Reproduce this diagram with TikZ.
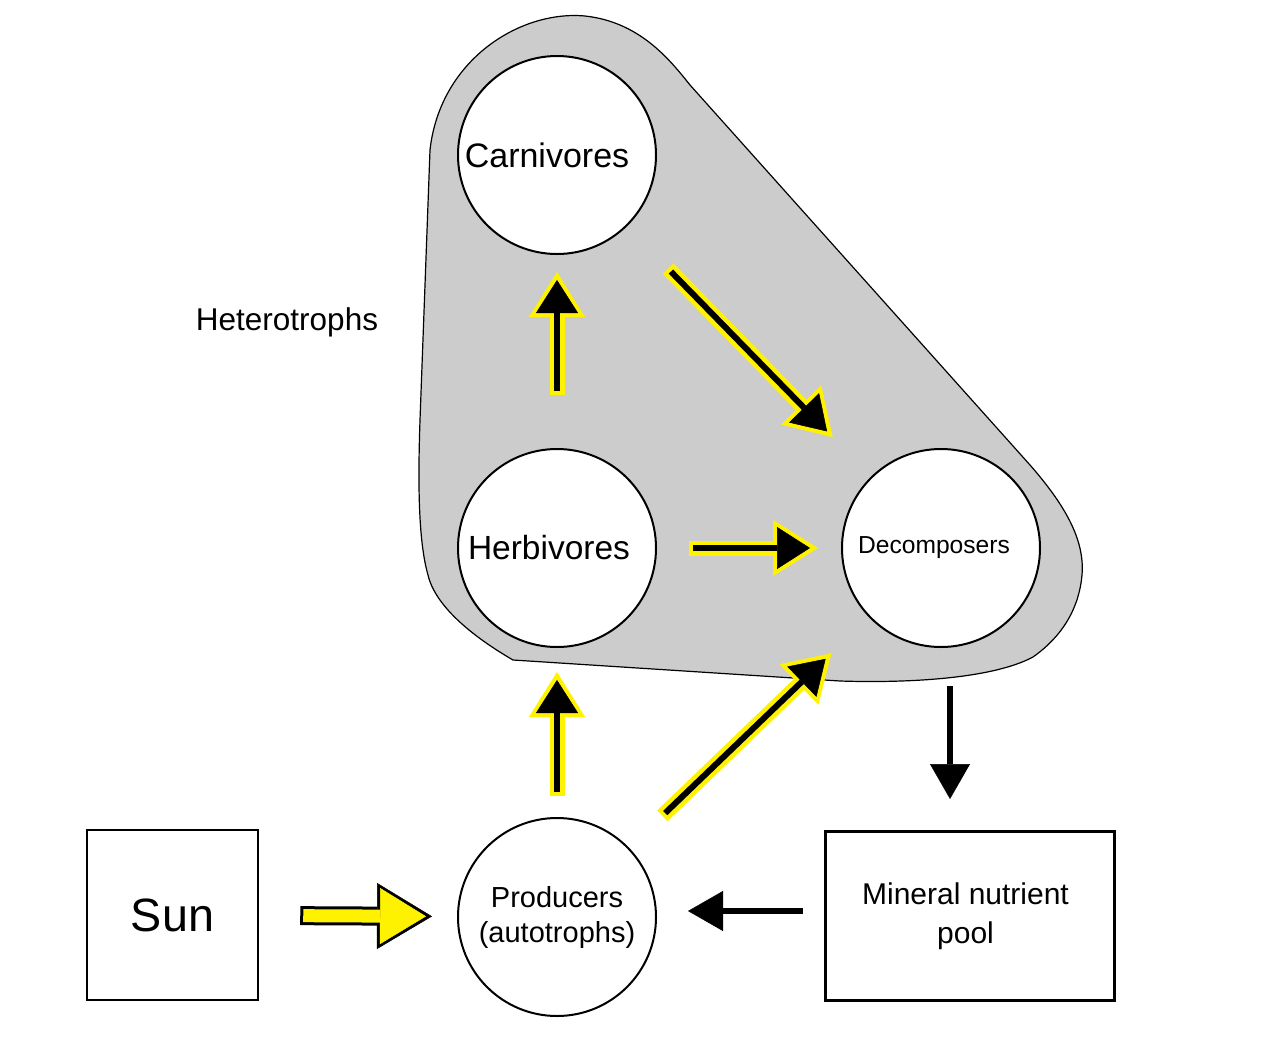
\documentclass[tikz,border=0pt]{standalone}
\usepackage{fontspec}
\setmainfont{Liberation Sans}
\usetikzlibrary{arrows.meta,positioning,calc}

\begin{document}
\begin{tikzpicture}[x=1pt, y=-1pt,
    bubble/.style={circle, draw, line width=2pt, fill=white, minimum size=198pt, inner sep=0pt, align=center},
    pool/.style={rectangle, draw, line width=3pt, fill=white, align=center},
    % black arrow with yellow rim (energy + matter)
    feed/.style 2 args={line width=6pt, -{Triangle[length=33pt, width=42pt, line width=0.5pt]},
      shorten <=#1, shorten >=#2,
      preaction={draw=yellow, line width=15pt, -{Triangle[length=45pt, width=56pt, line width=0.5pt]},
        shorten <=#1-4, shorten >=#2-8}},
    % yellow arrow with black rim (sunlight)
    light/.style 2 args={draw=yellow, line width=13pt, -{Triangle[length=46pt, width=56pt, line width=0.5pt]},
      shorten <=#1+3, shorten >=#2+6,
      preaction={draw=black, line width=19pt, -{Triangle[length=55pt, width=66pt, line width=0.5pt]},
        shorten <=#1, shorten >=#2}},
    % plain black arrow (nutrients)
    cycle/.style={line width=6pt, -{Triangle[length=35pt, width=40pt, line width=0.5pt]}}]
  \useasboundingbox (0,0) rectangle (1280,1053);
  % Heterotroph area
  \filldraw[fill=black!20, line width=1.2pt]
    (430,150) .. controls (440,60) and (520,10) .. (585,16)
    .. controls (640,22) and (670,60) .. (690,85) -- (1030,465)
    .. controls (1065,505) and (1085,540) .. (1082,575)
    .. controls (1078,620) and (1050,645) .. (1033,657)
    .. controls (990,680) and (900,683) .. (840,681) -- (513,660)
    .. controls (470,635) and (435,605) .. (428,575)
    .. controls (418,540) and (418,480) .. (420,420) -- cycle;
  \node[font=\fontsize{31.5}{36}\selectfont] (hetero) at (287,322) {Heterotrophs};
  % Trophic levels
  \node[bubble, font=\fontsize{34}{40}\selectfont] (carn) at (557,155) {Carnivores\hspace*{20pt}};
  \node[bubble, font=\fontsize{33.5}{40}\selectfont] (herb) at (557,548) {Herbivores\hspace*{16pt}};
  \node[bubble, font=\fontsize{24.6}{30}\selectfont] (decomp) at (941,548) {Decomposers\hspace*{14pt}};
  \node[bubble, font=\fontsize{29}{35}\selectfont] (prod) at (557,917) {Producers\\(autotrophs)};
  % Boxes
  \node[pool, line width=2.5pt, minimum width=171pt, minimum height=170pt, font=\fontsize{46.7}{52}\selectfont] (sun) at (172.5,915) {Sun};
  \node[pool, minimum width=289pt, minimum height=169pt, font=\fontsize{30}{39}\selectfont] (mineral) at (970,916) {Mineral nutrient\hspace*{9pt}\\pool\hspace*{9pt}};
  % Flows
  \draw[light={41}{25}] (sun) -- (prod);
  \draw[feed={36}{31}] (herb) -- (decomp);
  \draw[feed={57}{25}] (herb) -- (carn);
  \draw[feed={25}{32}] (prod) -- (herb);
  \draw[feed={163}{163}] (carn.center) -- (decomp.center);
  \draw[feed={150}{160}] (prod.center) -- (decomp.center);
  \draw[cycle, shorten <=38, shorten >=31] ([xshift=9pt]decomp.south) -- ([xshift=-20pt]mineral.north);
  \draw[cycle, shorten <=21, shorten >=31] ([yshift=5pt]mineral.west) -- ([yshift=6pt]prod.east);
\end{tikzpicture}
\end{document}
